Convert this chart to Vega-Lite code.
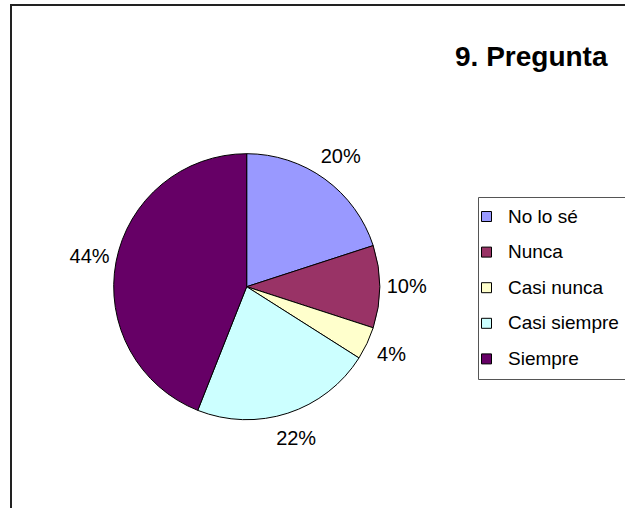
{
  "$schema": "https://vega.github.io/schema/vega-lite/v6.json",
  "width": 640,
  "height": 520,
  "padding": {"left": 11, "top": 5, "right": 0, "bottom": 0},
  "autosize": {"type": "none"},
  "background": "white",
  "view": {"stroke": "#222", "strokeWidth": 2, "fill": "white"},
  "config": {
    "font": "Liberation Sans"
  },
  "title": {
    "text": "9. Pregunta",
    "anchor": "start",
    "frame": "group",
    "orient": "top",
    "offset": 0,
    "dx": 444,
    "dy": 89,
    "baseline": "alphabetic",
    "font": "Liberation Sans",
    "fontSize": 28,
    "fontWeight": "bold",
    "color": "#000"
  },
  "data": {
    "values": [
      {"respuesta": "No lo sé", "porcentaje": 20, "orden": 1, "etiqueta": "20%"},
      {"respuesta": "Nunca", "porcentaje": 10, "orden": 2, "etiqueta": "10%"},
      {"respuesta": "Casi nunca", "porcentaje": 4, "orden": 3, "etiqueta": "4%"},
      {"respuesta": "Casi siempre", "porcentaje": 22, "orden": 4, "etiqueta": "22%"},
      {"respuesta": "Siempre", "porcentaje": 44, "orden": 5, "etiqueta": "44%"}
    ]
  },
  "encoding": {
    "theta": {"field": "porcentaje", "type": "quantitative", "stack": true},
    "order": {"field": "orden", "type": "quantitative"}
  },
  "layer": [
    {
      "mark": {"type": "arc", "outerRadius": 133, "x": 235.7, "y": 281.7, "stroke": "#000", "strokeWidth": 1},
      "encoding": {
        "color": {
          "field": "respuesta",
          "type": "nominal",
          "sort": ["No lo sé", "Nunca", "Casi nunca", "Casi siempre", "Siempre"],
          "scale": {
            "domain": ["No lo sé", "Nunca", "Casi nunca", "Casi siempre", "Siempre"],
            "range": ["#9999FF", "#993366", "#FFFFCC", "#CCFFFF", "#660066"]
          },
          "legend": {
            "orient": "none",
            "legendX": 467,
            "legendY": 192,
            "title": null,
            "strokeColor": "#555",
            "padding": 10,
            "symbolType": "square",
            "symbolSize": 100,
            "symbolOffset": -11,
            "symbolStrokeColor": "#000",
            "symbolStrokeWidth": 1,
            "labelFont": "Liberation Sans",
            "labelFontSize": 19,
            "labelColor": "#000",
            "labelOffset": 12,
            "labelLimit": 300,
            "rowPadding": 15.6
          }
        }
      }
    },
    {
      "mark": {"type": "text", "radius": 160, "x": 235.7, "y": 281.7, "fontSize": 20, "font": "Liberation Sans", "color": "#000"},
      "encoding": {"text": {"field": "etiqueta", "type": "nominal"}}
    }
  ]
}
